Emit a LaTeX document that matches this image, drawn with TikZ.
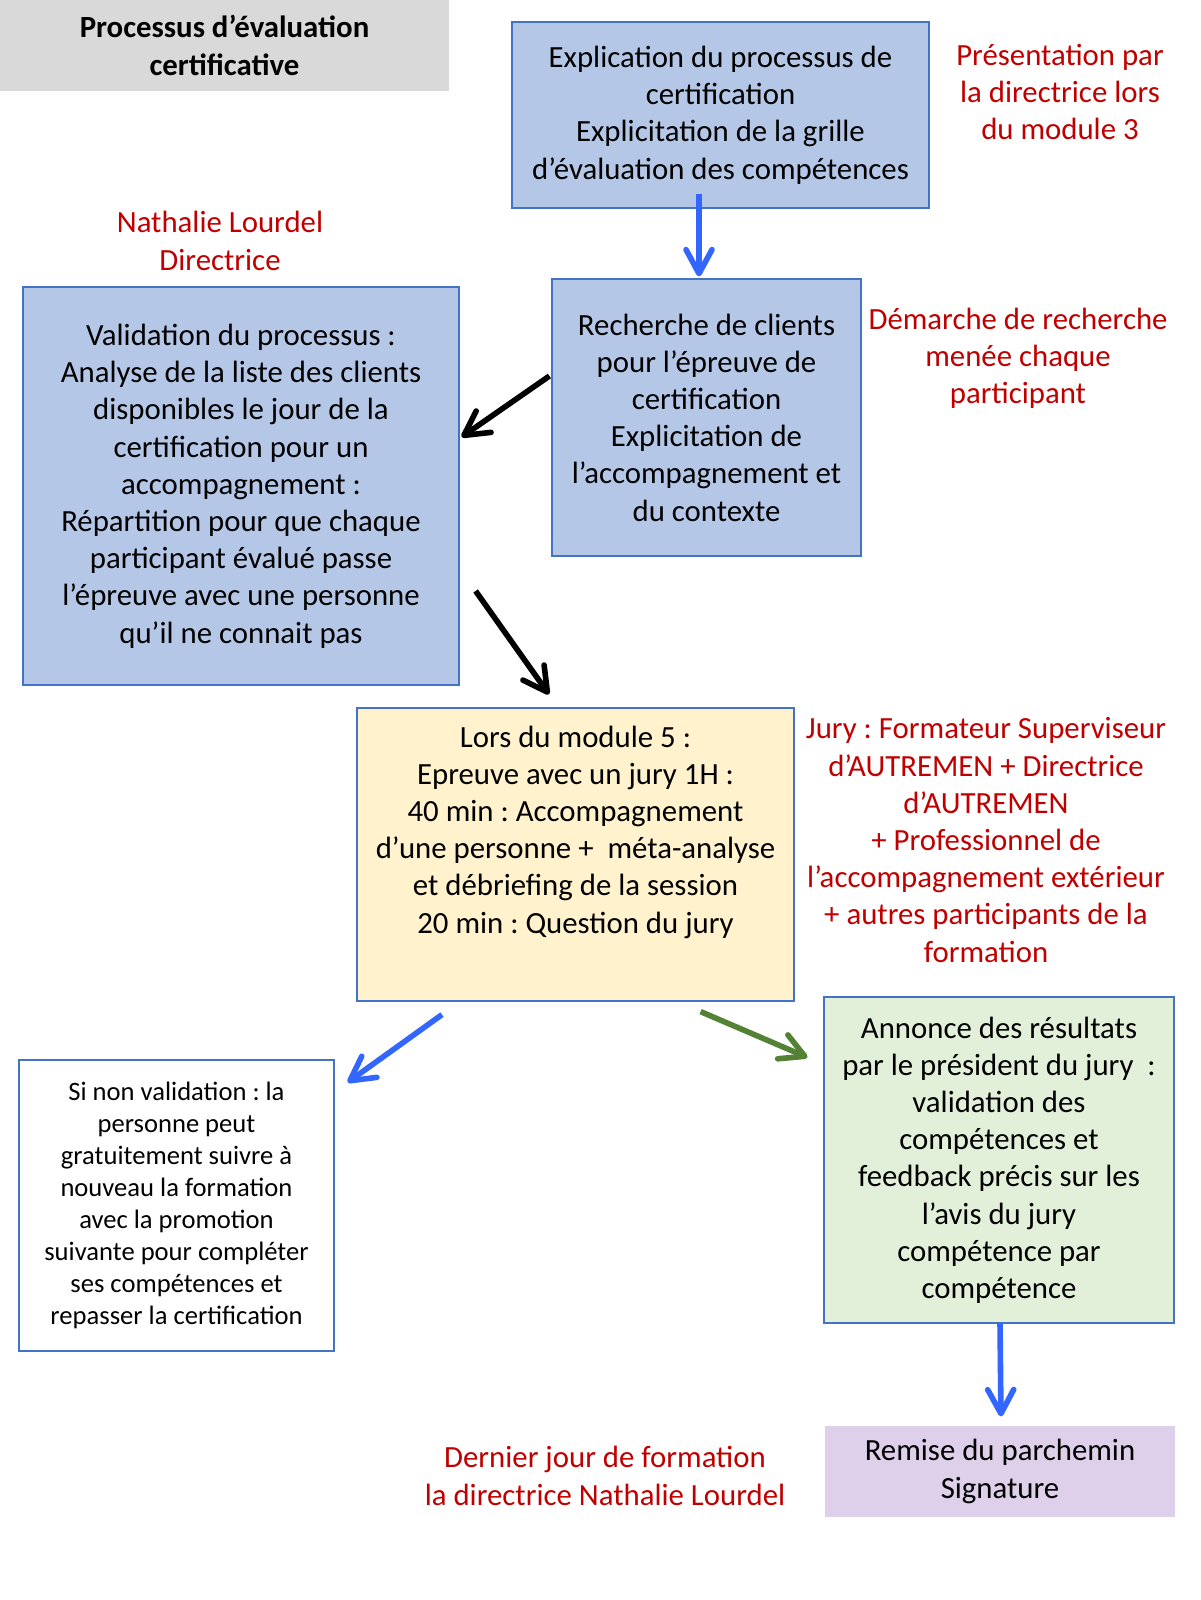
\documentclass[tikz,border=0pt]{standalone}
\usepackage{fontspec}
\setmainfont{Carlito}
\frenchspacing
\usepackage{tikz}
\usetikzlibrary{arrows.meta}
\definecolor{titlegray}{HTML}{D9D9D9}
\definecolor{boxblue}{HTML}{B4C7E7}
\definecolor{boxyellow}{HTML}{FFF2CC}
\definecolor{boxgreen}{HTML}{E2F0D9}
\definecolor{boxpurple}{HTML}{DED0EA}
\definecolor{boxline}{HTML}{4472C4}
\definecolor{notered}{HTML}{C00000}
\definecolor{arrblue}{HTML}{3366FF}
\definecolor{arrgreen}{HTML}{548235}
\tikzset{%
  >={Straight Barb[length=12pt,width=13pt,round]},
            base/.style = {rectangle, draw=boxline, line width=0.6pt, inner sep=0pt,
                           text centered, align=center,
                           font=\fontsize{15.4}{18.6}\selectfont},
  box0/.style = {base, fill=titlegray, draw=none, font=\fontsize{15.4}{18.6}\selectfont\bfseries},
  box1/.style = {base, fill=boxblue},
  box2/.style = {base, fill=boxyellow},
  box3/.style = {base, fill=boxgreen},
  box4/.style = {base, fill=boxpurple, draw=none},
  box5/.style = {base, fill=white, font=\fontsize{13.3}{16}\selectfont},
  void/.style = {base, draw=none, text=notered},
  arrow/.style = {->, line width=2.8pt},
}
\begin{document}
\begin{tikzpicture}[x=0.5pt, y=-0.5pt]
  \useasboundingbox (0,0) rectangle (1200,1600);

  \node (onTitle)      [box0, minimum width=224.5pt, minimum height=45.5pt] at (224.5,45.5)  {Processus d’évaluation\\certificative};
  \node (onExplication)[box1, minimum width=208.5pt, minimum height=93pt]   at (720.5,115)   {Explication du processus de\\certification\\Explicitation de la grille\\d’évaluation des compétences};
  \node (onRecherche)  [box1, minimum width=154.5pt, minimum height=138.5pt] at (706.5,417.5) {Recherche de clients\\pour l’épreuve de\\certification\\Explicitation de\\l’accompagnement et\\du contexte};
  \node (onValidation) [box1, minimum width=218pt, minimum height=199pt]   at (241,486)     {Validation du processus :\\Analyse de la liste des clients\\disponibles le jour de la\\certification pour un\\accompagnement :\\Répartition pour que chaque\\participant évalué passe\\l’épreuve avec une personne\\qu’il ne connait pas};
  \node (onEpreuve)    [box2, minimum width=218.5pt, minimum height=146.5pt] at (575.5,854.5) {Lors du module 5 :\\Epreuve avec un jury 1H :\\40 min : Accompagnement\\d’une personne +~~méta-analyse\\et débriefing de la session\\20 min : Question du jury\\[1pt]\strut};
  \node (onNonValid)   [box5, minimum width=157.5pt, minimum height=145.5pt] at (176.5,1205.5) {Si non validation : la\\personne peut\\gratuitement suivre à\\nouveau la formation\\avec la promotion\\suivante pour compléter\\ses compétences et\\repasser la certification};
  \node (onAnnonce)    [box3, minimum width=175pt, minimum height=163pt]   at (999,1160)    {Annonce des résultats\\par le président du jury~~:\\validation des\\compétences et\\feedback précis sur les\\l’avis du jury\\compétence par\\compétence};
  \node (onRemise)     [box4, minimum width=175pt, minimum height=45.5pt]  at (1000,1471.5) {Remise du parchemin\\Signature};

  \node (on_text_1) [void] at (1060,92)   {Présentation par\\la directrice lors\\du module 3};
  \node (on_text_2) [void] at (220,241)   {Nathalie Lourdel\\Directrice};
  \node (on_text_3) [void] at (1018,358)  {Démarche de recherche\\menée chaque\\participant};
  \node (on_text_4) [void] at (986,840)   {Jury : Formateur Superviseur\\d’AUTREMEN + Directrice\\d’AUTREMEN\\+ Professionnel de\\l’accompagnement extérieur\\+ autres participants de la\\formation};
  \node (on_text_5) [void] at (605,1476)  {Dernier jour de formation\\la directrice Nathalie Lourdel};

  \draw[arrow, arrblue]  ([xshift=-10.75pt,yshift=7.5pt]onExplication.south) -- ([xshift=-3.75pt,yshift=1pt]onRecherche.north);
  \draw[arrow, black]    ([xshift=-1pt,yshift=20.75pt]onRecherche.west) -- ([xshift=1pt,yshift=24.5pt]onValidation.east);
  \draw[arrow, black]    ([xshift=8pt,yshift=-52.5pt]onValidation.east) -- ([xshift=-13.25pt,yshift=6.5pt]onEpreuve.north);
  \draw[arrow, arrblue]  ([xshift=-66.75pt,yshift=-6.5pt]onEpreuve.south) -- ([xshift=6.5pt,yshift=-11.5pt]onNonValid.north east);
  \draw[arrow, arrgreen] ([xshift=-47pt,yshift=-5pt]onEpreuve.south east) -- ([xshift=-8pt,yshift=-30.5pt]onAnnonce.north west);
  \draw[arrow, arrblue]  ([xshift=0.5pt]onAnnonce.south) -- ([xshift=0.5pt,yshift=4.5pt]onRemise.north);
\end{tikzpicture}
\end{document}
